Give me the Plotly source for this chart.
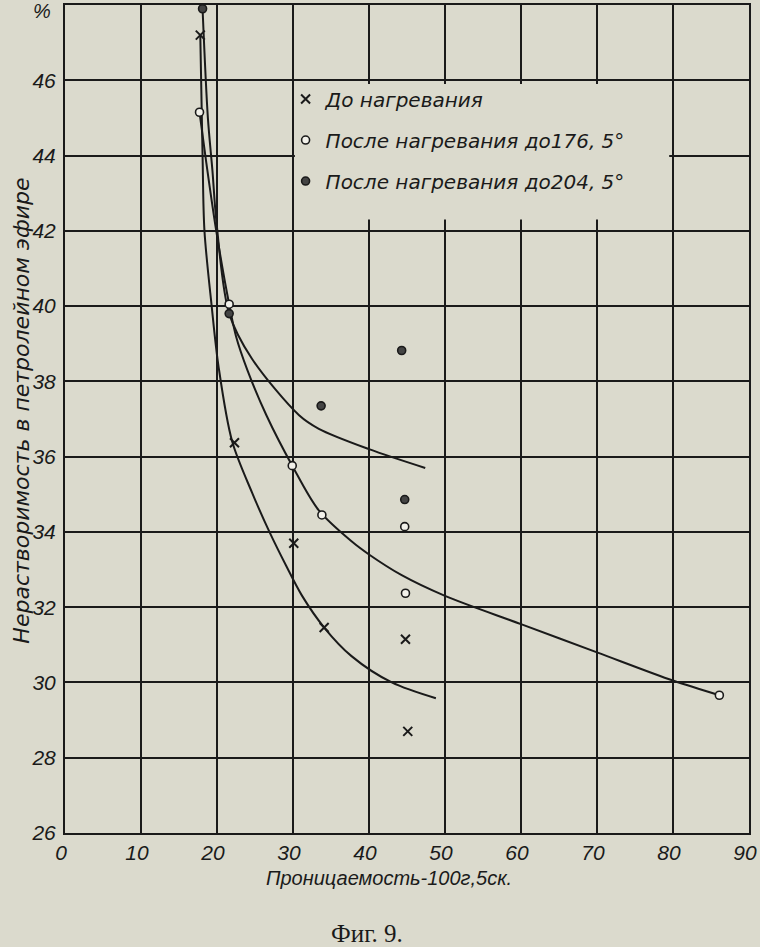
import plotly.graph_objects as go

# ---- data ----
# measured points
x_before = [17.8, 22.3, 30.1, 34.1, 44.8, 45.1]
y_before = [47.2, 36.37, 33.7, 31.46, 31.15, 28.7]

x_176 = [17.7, 21.6, 29.9, 33.8, 44.7, 44.8, 86.1]
y_176 = [45.15, 40.05, 35.76, 34.45, 34.14, 32.37, 29.66]

x_204 = [18.1, 21.6, 33.7, 44.3, 44.7]
y_204 = [47.9, 39.8, 37.35, 38.82, 34.86]

# hand-drawn fitted curves (traced)
cx_before = [17.8, 18.1, 18.35, 19.3, 20.2, 22.0, 24.6, 26.9, 29.1, 31.2, 34.1, 37.7, 43.0, 48.8]
cy_before = [47.2, 44.0, 42.0, 40.0, 38.4, 36.4, 35.05, 34.0, 33.1, 32.3, 31.46, 30.7, 30.0, 29.58]

cx_176 = [17.7, 18.6, 19.9, 21.6, 22.5, 24.0, 26.5, 29.9, 33.4, 37.7, 40.0, 44.3, 50.0, 60.0, 70.0, 80.0, 86.1]
cy_176 = [45.15, 43.8, 42.0, 40.05, 39.2, 38.3, 37.1, 35.76, 34.57, 33.75, 33.4, 32.85, 32.3, 31.55, 30.8, 30.05, 29.66]

cx_204 = [18.1, 18.8, 19.4, 19.9, 21.6, 24.6, 30.8, 33.4, 40.0, 47.4]
cy_204 = [47.9, 45.0, 43.6, 42.3, 39.8, 38.6, 37.1, 36.74, 36.2, 35.7]

x_ticks = [0, 10, 20, 30, 40, 50, 60, 70, 80, 90]
y_ticks = [26, 28, 30, 32, 34, 36, 38, 40, 42, 44, 46]

names = ["До нагревания", "После нагревания до176, 5°", "После нагревания до204, 5°"]

x_title = "Проницаемость-100г,5ск."
y_title = "Нерастворимость в петролейном эфире"
caption = "Фиг. 9."

# blank area of the paper behind the legend (in axis units)
LEGEND_BOX_X = [30.25, 79.5]
LEGEND_BOX_Y = [42.3, 45.9]

PAPER = "#dbdacd"
INK = "#1a1a1a"
FONT = "Liberation Sans"
WIDE = "DejaVu Sans"

fig = go.Figure()

for cx, cy in [(cx_before, cy_before), (cx_176, cy_176), (cx_204, cy_204)]:
    fig.add_trace(go.Scatter(x=cx, y=cy, mode="lines",
                             line=dict(color=INK, width=2, shape="spline", smoothing=0.9),
                             showlegend=False, hoverinfo="skip"))

fig.add_trace(go.Scatter(x=x_before, y=y_before, mode="markers", name=names[0],
                         legendgroup="a",
                         marker=dict(symbol="x-thin", size=9, line=dict(color=INK, width=2), color=INK)))
fig.add_trace(go.Scatter(x=x_176, y=y_176, mode="markers", name=names[1],
                         legendgroup="b",
                         marker=dict(symbol="circle", size=8, color="#f2f1ea", line=dict(color=INK, width=1.6))))
fig.add_trace(go.Scatter(x=x_204, y=y_204, mode="markers", name=names[2],
                         legendgroup="c",
                         marker=dict(symbol="circle", size=8, color="#444444", line=dict(color=INK, width=1.6))))

axis_common = dict(showline=True, mirror=True, linecolor=INK, linewidth=2,
                   showgrid=True, gridcolor=INK, gridwidth=2, zeroline=False,
                   ticks="", tickfont=dict(family=FONT, size=21, color=INK, style="italic"))

fig.update_xaxes(range=[0, 90], tickvals=x_ticks, ticktext=[str(v) for v in x_ticks],
                 ticklabelshift=-4, ticklabeloverflow="allow", **axis_common)
fig.update_yaxes(range=[26, 48], tickvals=y_ticks, ticktext=[str(v) for v in y_ticks],
                 ticklabelstandoff=3, **axis_common)

fig.add_shape(type="rect", xref="x", yref="y",
              x0=LEGEND_BOX_X[0], x1=LEGEND_BOX_X[1], y0=LEGEND_BOX_Y[0], y1=LEGEND_BOX_Y[1],
              fillcolor=PAPER, line=dict(width=0), layer="between")

fig.update_layout(
    width=760, height=947,
    margin=dict(l=65, r=8, t=3, b=114),
    paper_bgcolor=PAPER, plot_bgcolor=PAPER,
    legend=dict(x=0.3225, y=0.910, xanchor="left", yanchor="top",
                bgcolor="rgba(0,0,0,0)", borderwidth=0,
                tracegroupgap=12, itemwidth=30, traceorder="grouped",
                font=dict(family=WIDE, size=20, color=INK, style="italic")),
    annotations=[
        dict(text=x_title, xref="paper", yref="paper", x=0.473, y=-0.054,
             xanchor="center", yanchor="middle", showarrow=False,
             font=dict(family=FONT, size=20, color=INK, style="italic")),
        dict(text=y_title, xref="paper", yref="paper", x=-0.063, y=0.51,
             xanchor="center", yanchor="middle", showarrow=False, textangle=-90,
             font=dict(family=WIDE, size=22, color=INK, style="italic")),
        dict(text="%", xref="paper", yref="paper", x=-0.034, y=0.993,
             xanchor="center", yanchor="middle", showarrow=False,
             font=dict(family=FONT, size=20, color=INK, style="italic")),
        dict(text=caption, xref="paper", yref="paper", x=0.441, y=-0.1217,
             xanchor="center", yanchor="middle", showarrow=False,
             font=dict(family="Liberation Serif", size=25, color=INK)),
    ],
)

fig.write_html("out.html", config={"displayModeBar": False},
               post_script="document.body.style.margin='0';")
